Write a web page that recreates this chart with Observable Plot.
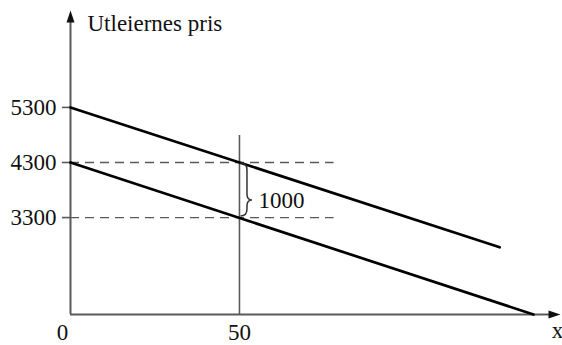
<!DOCTYPE html>
<html>
<head>
<meta charset="utf-8">
<script src="https://cdn.jsdelivr.net/npm/d3@7"></script>
<script src="https://cdn.jsdelivr.net/npm/@observablehq/plot@0.6"></script>
<style>
  body { margin: 0; background: #fff; }
</style>
</head>
<body>
<div id="chart"></div>
<script>
// Quantity axis (x) and price axis (y)
const xDomain = [0, 145];
const yDomain = [1540, 7060];
const originLabel = "0";
const xTicks = [50];
const yTicks = [5300, 4300, 3300];
const yLabel = "Utleiernes pris";
const xLabel = "x";

// Two parallel price lines, shifted by 1000
const upperLine = [{x: 0, y: 5300}, {x: 127, y: 2760}];
const lowerLine = [{x: 0, y: 4300}, {x: 137, y: 1540}];

// Reading at x = 50: the two prices and the gap between them
const quantity = 50;
const quantityTop = 4790;
const guideLevels = [4300, 3300];
const guideEnd = 78;
const braceTip = 3610;
const gapLabel = "1000";

const axisColor = "#5a5a5a";
const font = "Liberation Serif, Times New Roman, serif";
const plain = d => String(d);

// Filled arrowhead pointing up, centred on the dot position
const arrowHead = {
  draw(ctx) {
    ctx.moveTo(0, -6);
    ctx.lineTo(4, 6);
    ctx.lineTo(-4, 6);
    ctx.closePath();
  }
};

// Curly brace spanning the two guide levels at the given quantity
function brace(index, {x, y}) {
  const x0 = x(quantity) + 1.5;
  const yt = y(guideLevels[0]) + 1;
  const yb = y(guideLevels[1]) - 1;
  const ym = y(braceTip);
  const xa = x0 + 6.5, xc = x0 + 11.5;
  const d = `M${x0},${yt} Q${xa},${yt} ${xa},${yt + 7} L${xa},${ym - 6} Q${xa},${ym} ${xc},${ym}`
          + ` Q${xa},${ym} ${xa},${ym + 6} L${xa},${yb - 7} Q${xa},${yb} ${x0},${yb}`;
  return d3.create("svg:path")
    .attr("d", d)
    .attr("fill", "none")
    .attr("stroke", "#333")
    .attr("stroke-width", 1.5)
    .node();
}

const chart = Plot.plot({
  width: 562,
  height: 345,
  marginLeft: 70,
  marginRight: 2,
  marginTop: 10,
  marginBottom: 31,
  style: {fontFamily: font, fontSize: "23px", background: "#fff", color: "#111"},
  x: {domain: xDomain, axis: null},
  y: {domain: yDomain, axis: null},
  marks: [
    // dashed guides at the two price levels
    Plot.ruleY(guideLevels, {x1: 0, x2: guideEnd, stroke: axisColor, strokeWidth: 1.3, strokeDasharray: "9,6"}),
    // vertical line at the chosen quantity
    Plot.ruleX([quantity], {y1: yDomain[0], y2: quantityTop, stroke: axisColor, strokeWidth: 1.6}),
    // y tick marks
    Plot.ruleY(yTicks, {x1: -2.4, x2: 0, stroke: axisColor, strokeWidth: 1.6}),
    // axes
    Plot.ruleX([0], {y1: yDomain[0], y2: yDomain[1] - 150, stroke: axisColor, strokeWidth: 2}),
    Plot.ruleY([yDomain[0]], {x1: 0, x2: xDomain[1] - 3, stroke: axisColor, strokeWidth: 2}),
    Plot.dot([0], {x: d => d, y: yDomain[1], dy: 6, symbol: arrowHead, fill: "#111", stroke: "none"}),
    Plot.dot([0], {x: xDomain[1], y: yDomain[0], dx: -6, rotate: 90, symbol: arrowHead, fill: "#111", stroke: "none"}),
    // price lines
    Plot.line(upperLine, {x: "x", y: "y", stroke: "#000", strokeWidth: 2.7}),
    Plot.line(lowerLine, {x: "x", y: "y", stroke: "#000", strokeWidth: 2.7}),
    // brace and its label
    brace,
    Plot.text([gapLabel], {x: quantity, y: braceTip, dx: 19, textAnchor: "start", fontSize: 23, fill: "#111"}),
    // tick labels
    Plot.text(yTicks, {x: 0, y: d => d, text: plain, dx: -14, textAnchor: "end", fontSize: 23, fill: "#111"}),
    Plot.text(xTicks, {x: d => d, y: yDomain[0], text: plain, dy: 18, fontSize: 23, fill: "#111"}),
    Plot.text([originLabel], {x: 0, y: yDomain[0], dx: -8, dy: 18, fontSize: 23, fill: "#111"}),
    // axis titles
    Plot.text([yLabel], {frameAnchor: "top-left", dx: 17, dy: 4, textAnchor: "start", lineAnchor: "top", fontSize: 23, fill: "#111"}),
    Plot.text([xLabel], {x: xDomain[1], y: yDomain[0], dx: -3, dy: 16, fontSize: 23, fill: "#111"})
  ]
});

document.getElementById("chart").append(chart);
</script>
</body>
</html>
